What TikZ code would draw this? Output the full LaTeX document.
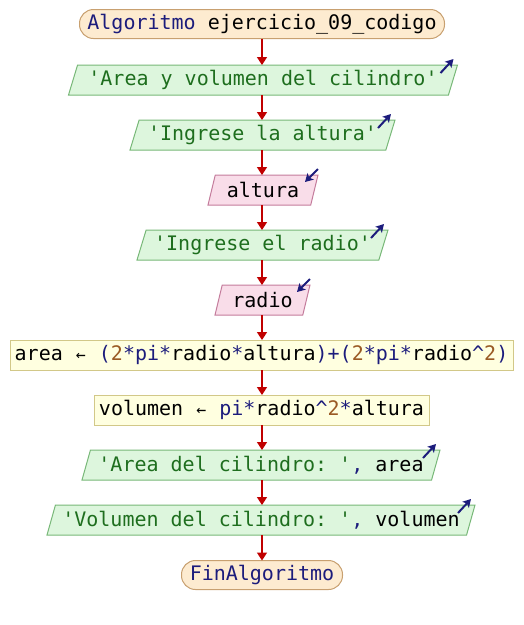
\documentclass[tikz,border=0pt]{standalone}
\usepackage{fontspec}
\setmonofont{DejaVu Sans Mono}
\usetikzlibrary{shapes.geometric,arrows.meta}

\definecolor{kw}{HTML}{1C1C7C}
\definecolor{str}{HTML}{1E6E1E}
\definecolor{num}{HTML}{9A5A24}
\definecolor{flowred}{HTML}{C00000}
\definecolor{termfill}{HTML}{FDEBD0}
\definecolor{termline}{HTML}{C8A070}
\definecolor{outfill}{HTML}{DDF6DD}
\definecolor{outline}{HTML}{78B878}
\definecolor{infill}{HTML}{F9DDE9}
\definecolor{inline}{HTML}{C47C9C}
\definecolor{asgfill}{HTML}{FFFFE0}
\definecolor{asgline}{HTML}{D2C888}

\tikzset{
  txt/.style={font=\ttfamily\fontsize{20}{24}\selectfont, inner sep=0pt, outer sep=0pt, text=black},
  terminal/.style={txt, draw=termline, fill=termfill, line width=1pt,
    rounded corners=14pt, minimum height=29pt},
  outbox/.style={txt, trapezium, trapezium left angle=65, trapezium right angle=115,
    trapezium stretches body, draw=outline, fill=outfill, line width=1pt, minimum height=30pt},
  inbox/.style={txt, trapezium, trapezium left angle=65, trapezium right angle=115,
    trapezium stretches body, draw=inline, fill=infill, line width=1pt, minimum height=30pt},
  asgbox/.style={txt, draw=asgline, fill=asgfill, line width=1pt, minimum height=30pt},
  flow/.style={draw=flowred, line width=1.6pt, -{Triangle[length=8pt,width=10pt]}},
  icon/.style={draw=kw, line width=2pt, -{Stealth[length=8pt,width=9pt,inset=2pt]}}
}

\newcommand{\kw}[1]{{\color{kw}#1}}
\newcommand{\str}[1]{{\color{str}#1}}
\newcommand{\num}[1]{{\color{num}#1}}
\newcommand{\asg}{\makebox[12pt]{\fontsize{16.5}{16.5}\selectfont ←}}

\begin{document}
\begin{tikzpicture}[x=1pt,y=-1pt]
\useasboundingbox (0,0) rectangle (524,625);

% flowchart nodes, top to bottom
\node[terminal, minimum width=365pt] (start) at (262,24)
  {\kw{Algoritmo} ejercicio\_09\_codigo};
\node[outbox, minimum width=389pt] (o1) at (263,80)
  {\str{'Area y volumen del cilindro'}};
\node[outbox, minimum width=265pt] (o2) at (262.5,135)
  {\str{'Ingrese la altura'}};
\node[inbox, minimum width=110pt] (i1) at (263,190)
  {altura};
\node[outbox, minimum width=251pt] (o3) at (262.5,245)
  {\str{'Ingrese el radio'}};
\node[inbox, minimum width=95pt] (i2) at (262.5,300)
  {radio};
\node[asgbox, minimum width=503pt] (a1) at (261.5,355)
  {area \asg{} \kw{(}\num{2}\kw{*pi*}radio\kw{*}altura\kw{)+(}\num{2}\kw{*pi*}radio\kw{\^{}}\num{2}\kw{)}};
\node[asgbox, minimum width=335pt] (a2) at (261.5,410)
  {volumen \asg{} \kw{pi*}radio\kw{\^{}}\num{2}\kw{*}altura};
\node[outbox, minimum width=358pt] (o4) at (261,465)
  {\str{'Area del cilindro: '}\kw{,} area};
\node[outbox, minimum width=428pt] (o5) at (261,520)
  {\str{'Volumen del cilindro: '}\kw{,} volumen};
\node[terminal, minimum width=161pt] (stop) at (262,575)
  {\kw{FinAlgoritmo}};

% flow connectors, all on the common vertical axis
\foreach \a/\b in {start/o1, o1/o2, o2/i1, i1/o3, o3/i2, i2/a1, a1/a2, a2/o4, o4/o5, o5/stop}
  \draw[flow] (start.center |- \a.south) -- (start.center |- \b.north);

% output markers
\foreach \n in {o1,o2,o3,o4,o5}
  \draw[icon] ([shift={(-17,8)}]\n.top right corner) -- ++(13,-14);
% input markers
\foreach \n in {i1,i2}
  \draw[icon] ([shift={(0,-6)}]\n.top right corner) -- ++(-13,13);
\end{tikzpicture}
\end{document}
